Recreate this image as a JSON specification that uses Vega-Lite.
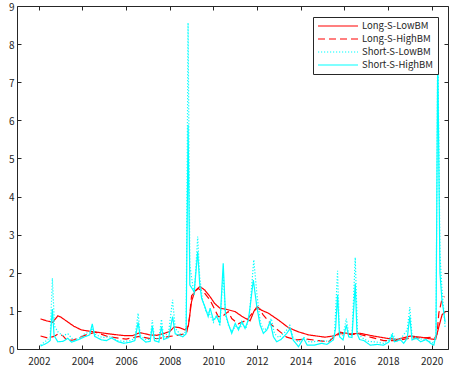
{
  "$schema": "https://vega.github.io/schema/vega-lite/v6.json",
  "width": 431,
  "height": 343,
  "autosize": {"type": "none"},
  "padding": {"left": 17, "top": 6, "right": 1, "bottom": 22},
  "background": "white",
  "config": {
    "view": {"stroke": "#262626", "strokeWidth": 1},
    "axis": {
      "domain": false,
      "grid": false,
      "ticks": true,
      "tickSize": -4,
      "tickColor": "#262626",
      "labelFont": "Noto Sans CJK JP",
      "labelFontSize": 10,
      "labelColor": "#262626",
      "title": null
    },
    "legend": {
      "orient": "none",
      "legendX": 296,
      "legendY": 11,
      "strokeColor": "#262626",
      "fillColor": "white",
      "padding": 4,
      "symbolType": "M-1,0H9",
      "symbolSize": 64,
      "symbolStrokeWidth": 1.2,
      "labelFont": "Noto Sans CJK JP",
      "labelFontSize": 9.5,
      "labelColor": "#262626",
      "labelOffset": 35,
      "rowPadding": 3,
      "title": null
    }
  },
  "data": {
    "values": [
      {"s": "Long-S-LowBM", "t": 2002.08, "v": 0.79},
      {"s": "Long-S-LowBM", "t": 2002.35, "v": 0.74},
      {"s": "Long-S-LowBM", "t": 2002.64, "v": 0.70},
      {"s": "Long-S-LowBM", "t": 2002.87, "v": 0.87},
      {"s": "Long-S-LowBM", "t": 2003.0, "v": 0.84},
      {"s": "Long-S-LowBM", "t": 2003.3, "v": 0.72},
      {"s": "Long-S-LowBM", "t": 2003.6, "v": 0.60},
      {"s": "Long-S-LowBM", "t": 2003.95, "v": 0.50},
      {"s": "Long-S-LowBM", "t": 2004.4, "v": 0.46},
      {"s": "Long-S-LowBM", "t": 2004.8, "v": 0.43},
      {"s": "Long-S-LowBM", "t": 2005.3, "v": 0.39},
      {"s": "Long-S-LowBM", "t": 2005.94, "v": 0.35},
      {"s": "Long-S-LowBM", "t": 2006.3, "v": 0.35},
      {"s": "Long-S-LowBM", "t": 2006.63, "v": 0.43},
      {"s": "Long-S-LowBM", "t": 2007.09, "v": 0.37},
      {"s": "Long-S-LowBM", "t": 2007.4, "v": 0.36},
      {"s": "Long-S-LowBM", "t": 2007.7, "v": 0.40},
      {"s": "Long-S-LowBM", "t": 2008.0, "v": 0.46},
      {"s": "Long-S-LowBM", "t": 2008.2, "v": 0.58},
      {"s": "Long-S-LowBM", "t": 2008.45, "v": 0.56},
      {"s": "Long-S-LowBM", "t": 2008.7, "v": 0.50},
      {"s": "Long-S-LowBM", "t": 2008.85, "v": 0.60},
      {"s": "Long-S-LowBM", "t": 2009.0, "v": 1.25},
      {"s": "Long-S-LowBM", "t": 2009.15, "v": 1.52},
      {"s": "Long-S-LowBM", "t": 2009.38, "v": 1.64},
      {"s": "Long-S-LowBM", "t": 2009.6, "v": 1.55},
      {"s": "Long-S-LowBM", "t": 2009.85, "v": 1.37},
      {"s": "Long-S-LowBM", "t": 2010.05, "v": 1.20},
      {"s": "Long-S-LowBM", "t": 2010.3, "v": 1.07},
      {"s": "Long-S-LowBM", "t": 2010.6, "v": 1.04},
      {"s": "Long-S-LowBM", "t": 2011.0, "v": 0.98},
      {"s": "Long-S-LowBM", "t": 2011.3, "v": 0.86},
      {"s": "Long-S-LowBM", "t": 2011.55, "v": 0.78},
      {"s": "Long-S-LowBM", "t": 2011.68, "v": 0.74},
      {"s": "Long-S-LowBM", "t": 2011.85, "v": 0.98},
      {"s": "Long-S-LowBM", "t": 2012.0, "v": 1.11},
      {"s": "Long-S-LowBM", "t": 2012.2, "v": 1.02},
      {"s": "Long-S-LowBM", "t": 2012.52, "v": 0.94},
      {"s": "Long-S-LowBM", "t": 2012.98, "v": 0.76},
      {"s": "Long-S-LowBM", "t": 2013.44, "v": 0.56},
      {"s": "Long-S-LowBM", "t": 2013.9, "v": 0.45},
      {"s": "Long-S-LowBM", "t": 2014.36, "v": 0.37},
      {"s": "Long-S-LowBM", "t": 2015.12, "v": 0.31},
      {"s": "Long-S-LowBM", "t": 2015.58, "v": 0.35},
      {"s": "Long-S-LowBM", "t": 2015.81, "v": 0.44},
      {"s": "Long-S-LowBM", "t": 2016.27, "v": 0.40},
      {"s": "Long-S-LowBM", "t": 2016.73, "v": 0.41},
      {"s": "Long-S-LowBM", "t": 2017.34, "v": 0.34},
      {"s": "Long-S-LowBM", "t": 2017.96, "v": 0.28},
      {"s": "Long-S-LowBM", "t": 2018.42, "v": 0.25},
      {"s": "Long-S-LowBM", "t": 2019.03, "v": 0.34},
      {"s": "Long-S-LowBM", "t": 2019.49, "v": 0.31},
      {"s": "Long-S-LowBM", "t": 2020.02, "v": 0.26},
      {"s": "Long-S-LowBM", "t": 2020.18, "v": 0.25},
      {"s": "Long-S-LowBM", "t": 2020.33, "v": 0.58},
      {"s": "Long-S-LowBM", "t": 2020.48, "v": 0.90},
      {"s": "Long-S-LowBM", "t": 2020.64, "v": 0.98},

      {"s": "Long-S-HighBM", "t": 2002.08, "v": 0.34},
      {"s": "Long-S-HighBM", "t": 2002.4, "v": 0.29},
      {"s": "Long-S-HighBM", "t": 2002.7, "v": 0.33},
      {"s": "Long-S-HighBM", "t": 2002.9, "v": 0.40},
      {"s": "Long-S-HighBM", "t": 2003.1, "v": 0.35},
      {"s": "Long-S-HighBM", "t": 2003.3, "v": 0.22},
      {"s": "Long-S-HighBM", "t": 2003.6, "v": 0.24},
      {"s": "Long-S-HighBM", "t": 2004.2, "v": 0.38},
      {"s": "Long-S-HighBM", "t": 2004.6, "v": 0.44},
      {"s": "Long-S-HighBM", "t": 2005.2, "v": 0.32},
      {"s": "Long-S-HighBM", "t": 2006.0, "v": 0.26},
      {"s": "Long-S-HighBM", "t": 2006.6, "v": 0.33},
      {"s": "Long-S-HighBM", "t": 2007.1, "v": 0.27},
      {"s": "Long-S-HighBM", "t": 2007.5, "v": 0.28},
      {"s": "Long-S-HighBM", "t": 2008.0, "v": 0.33},
      {"s": "Long-S-HighBM", "t": 2008.46, "v": 0.37},
      {"s": "Long-S-HighBM", "t": 2008.77, "v": 0.41},
      {"s": "Long-S-HighBM", "t": 2008.9, "v": 0.80},
      {"s": "Long-S-HighBM", "t": 2009.0, "v": 1.40},
      {"s": "Long-S-HighBM", "t": 2009.3, "v": 1.59},
      {"s": "Long-S-HighBM", "t": 2009.55, "v": 1.50},
      {"s": "Long-S-HighBM", "t": 2009.84, "v": 1.29},
      {"s": "Long-S-HighBM", "t": 2010.05, "v": 1.05},
      {"s": "Long-S-HighBM", "t": 2010.22, "v": 0.85},
      {"s": "Long-S-HighBM", "t": 2010.4, "v": 0.85},
      {"s": "Long-S-HighBM", "t": 2010.68, "v": 0.98},
      {"s": "Long-S-HighBM", "t": 2010.84, "v": 0.80},
      {"s": "Long-S-HighBM", "t": 2011.14, "v": 0.66},
      {"s": "Long-S-HighBM", "t": 2011.53, "v": 0.76},
      {"s": "Long-S-HighBM", "t": 2011.91, "v": 1.03},
      {"s": "Long-S-HighBM", "t": 2012.05, "v": 1.08},
      {"s": "Long-S-HighBM", "t": 2012.29, "v": 0.89},
      {"s": "Long-S-HighBM", "t": 2012.67, "v": 0.63},
      {"s": "Long-S-HighBM", "t": 2013.06, "v": 0.45},
      {"s": "Long-S-HighBM", "t": 2013.36, "v": 0.31},
      {"s": "Long-S-HighBM", "t": 2013.82, "v": 0.24},
      {"s": "Long-S-HighBM", "t": 2014.28, "v": 0.26},
      {"s": "Long-S-HighBM", "t": 2014.82, "v": 0.22},
      {"s": "Long-S-HighBM", "t": 2015.28, "v": 0.19},
      {"s": "Long-S-HighBM", "t": 2015.45, "v": 0.28},
      {"s": "Long-S-HighBM", "t": 2015.81, "v": 0.41},
      {"s": "Long-S-HighBM", "t": 2016.27, "v": 0.38},
      {"s": "Long-S-HighBM", "t": 2016.73, "v": 0.38},
      {"s": "Long-S-HighBM", "t": 2017.19, "v": 0.31},
      {"s": "Long-S-HighBM", "t": 2017.8, "v": 0.22},
      {"s": "Long-S-HighBM", "t": 2018.42, "v": 0.22},
      {"s": "Long-S-HighBM", "t": 2019.03, "v": 0.29},
      {"s": "Long-S-HighBM", "t": 2019.49, "v": 0.29},
      {"s": "Long-S-HighBM", "t": 2020.02, "v": 0.31},
      {"s": "Long-S-HighBM", "t": 2020.12, "v": 0.26},
      {"s": "Long-S-HighBM", "t": 2020.25, "v": 0.40},
      {"s": "Long-S-HighBM", "t": 2020.33, "v": 0.94},
      {"s": "Long-S-HighBM", "t": 2020.45, "v": 1.25},
      {"s": "Long-S-HighBM", "t": 2020.58, "v": 1.38},

      {"s": "Short-S-LowBM", "t": 2002.08, "v": 0.10},
      {"s": "Short-S-LowBM", "t": 2002.3, "v": 0.20},
      {"s": "Short-S-LowBM", "t": 2002.52, "v": 0.30},
      {"s": "Short-S-LowBM", "t": 2002.62, "v": 1.86},
      {"s": "Short-S-LowBM", "t": 2002.72, "v": 0.60},
      {"s": "Short-S-LowBM", "t": 2002.87, "v": 0.45},
      {"s": "Short-S-LowBM", "t": 2003.1, "v": 0.35},
      {"s": "Short-S-LowBM", "t": 2003.33, "v": 0.40},
      {"s": "Short-S-LowBM", "t": 2003.6, "v": 0.22},
      {"s": "Short-S-LowBM", "t": 2003.9, "v": 0.30},
      {"s": "Short-S-LowBM", "t": 2004.1, "v": 0.40},
      {"s": "Short-S-LowBM", "t": 2004.35, "v": 0.45},
      {"s": "Short-S-LowBM", "t": 2004.45, "v": 0.55},
      {"s": "Short-S-LowBM", "t": 2004.6, "v": 0.38},
      {"s": "Short-S-LowBM", "t": 2004.9, "v": 0.30},
      {"s": "Short-S-LowBM", "t": 2005.3, "v": 0.32},
      {"s": "Short-S-LowBM", "t": 2005.6, "v": 0.22},
      {"s": "Short-S-LowBM", "t": 2005.9, "v": 0.20},
      {"s": "Short-S-LowBM", "t": 2006.2, "v": 0.22},
      {"s": "Short-S-LowBM", "t": 2006.4, "v": 0.28},
      {"s": "Short-S-LowBM", "t": 2006.55, "v": 0.94},
      {"s": "Short-S-LowBM", "t": 2006.65, "v": 0.35},
      {"s": "Short-S-LowBM", "t": 2006.9, "v": 0.25},
      {"s": "Short-S-LowBM", "t": 2007.1, "v": 0.25},
      {"s": "Short-S-LowBM", "t": 2007.2, "v": 0.76},
      {"s": "Short-S-LowBM", "t": 2007.3, "v": 0.28},
      {"s": "Short-S-LowBM", "t": 2007.5, "v": 0.25},
      {"s": "Short-S-LowBM", "t": 2007.62, "v": 0.78},
      {"s": "Short-S-LowBM", "t": 2007.72, "v": 0.30},
      {"s": "Short-S-LowBM", "t": 2007.95, "v": 0.45},
      {"s": "Short-S-LowBM", "t": 2008.13, "v": 1.29},
      {"s": "Short-S-LowBM", "t": 2008.25, "v": 0.55},
      {"s": "Short-S-LowBM", "t": 2008.45, "v": 0.40},
      {"s": "Short-S-LowBM", "t": 2008.65, "v": 0.38},
      {"s": "Short-S-LowBM", "t": 2008.75, "v": 0.50},
      {"s": "Short-S-LowBM", "t": 2008.84, "v": 8.56},
      {"s": "Short-S-LowBM", "t": 2008.92, "v": 2.20},
      {"s": "Short-S-LowBM", "t": 2009.12, "v": 1.40},
      {"s": "Short-S-LowBM", "t": 2009.28, "v": 2.95},
      {"s": "Short-S-LowBM", "t": 2009.37, "v": 1.90},
      {"s": "Short-S-LowBM", "t": 2009.5, "v": 1.30},
      {"s": "Short-S-LowBM", "t": 2009.65, "v": 1.00},
      {"s": "Short-S-LowBM", "t": 2009.8, "v": 0.95},
      {"s": "Short-S-LowBM", "t": 2010.0, "v": 0.70},
      {"s": "Short-S-LowBM", "t": 2010.15, "v": 0.90},
      {"s": "Short-S-LowBM", "t": 2010.3, "v": 0.60},
      {"s": "Short-S-LowBM", "t": 2010.45, "v": 2.00},
      {"s": "Short-S-LowBM", "t": 2010.55, "v": 0.90},
      {"s": "Short-S-LowBM", "t": 2010.7, "v": 0.60},
      {"s": "Short-S-LowBM", "t": 2010.85, "v": 0.45},
      {"s": "Short-S-LowBM", "t": 2011.0, "v": 0.60},
      {"s": "Short-S-LowBM", "t": 2011.2, "v": 0.55},
      {"s": "Short-S-LowBM", "t": 2011.35, "v": 0.65},
      {"s": "Short-S-LowBM", "t": 2011.5, "v": 0.55},
      {"s": "Short-S-LowBM", "t": 2011.65, "v": 0.90},
      {"s": "Short-S-LowBM", "t": 2011.85, "v": 2.34},
      {"s": "Short-S-LowBM", "t": 2012.0, "v": 1.40},
      {"s": "Short-S-LowBM", "t": 2012.15, "v": 0.70},
      {"s": "Short-S-LowBM", "t": 2012.3, "v": 0.50},
      {"s": "Short-S-LowBM", "t": 2012.5, "v": 0.55},
      {"s": "Short-S-LowBM", "t": 2012.65, "v": 0.80},
      {"s": "Short-S-LowBM", "t": 2012.8, "v": 0.40},
      {"s": "Short-S-LowBM", "t": 2013.0, "v": 0.30},
      {"s": "Short-S-LowBM", "t": 2013.3, "v": 0.45},
      {"s": "Short-S-LowBM", "t": 2013.5, "v": 0.62},
      {"s": "Short-S-LowBM", "t": 2013.65, "v": 0.30},
      {"s": "Short-S-LowBM", "t": 2013.9, "v": 0.18},
      {"s": "Short-S-LowBM", "t": 2014.15, "v": 0.30},
      {"s": "Short-S-LowBM", "t": 2014.4, "v": 0.18},
      {"s": "Short-S-LowBM", "t": 2014.7, "v": 0.20},
      {"s": "Short-S-LowBM", "t": 2015.0, "v": 0.22},
      {"s": "Short-S-LowBM", "t": 2015.3, "v": 0.20},
      {"s": "Short-S-LowBM", "t": 2015.55, "v": 0.40},
      {"s": "Short-S-LowBM", "t": 2015.69, "v": 2.05},
      {"s": "Short-S-LowBM", "t": 2015.78, "v": 0.45},
      {"s": "Short-S-LowBM", "t": 2015.94, "v": 0.35},
      {"s": "Short-S-LowBM", "t": 2016.09, "v": 0.80},
      {"s": "Short-S-LowBM", "t": 2016.2, "v": 0.40},
      {"s": "Short-S-LowBM", "t": 2016.35, "v": 0.35},
      {"s": "Short-S-LowBM", "t": 2016.5, "v": 2.40},
      {"s": "Short-S-LowBM", "t": 2016.6, "v": 0.45},
      {"s": "Short-S-LowBM", "t": 2016.8, "v": 0.30},
      {"s": "Short-S-LowBM", "t": 2017.1, "v": 0.20},
      {"s": "Short-S-LowBM", "t": 2017.5, "v": 0.18},
      {"s": "Short-S-LowBM", "t": 2017.8, "v": 0.15},
      {"s": "Short-S-LowBM", "t": 2018.05, "v": 0.25},
      {"s": "Short-S-LowBM", "t": 2018.2, "v": 0.42},
      {"s": "Short-S-LowBM", "t": 2018.35, "v": 0.25},
      {"s": "Short-S-LowBM", "t": 2018.6, "v": 0.28},
      {"s": "Short-S-LowBM", "t": 2018.88, "v": 0.50},
      {"s": "Short-S-LowBM", "t": 2019.0, "v": 1.10},
      {"s": "Short-S-LowBM", "t": 2019.1, "v": 0.35},
      {"s": "Short-S-LowBM", "t": 2019.3, "v": 0.30},
      {"s": "Short-S-LowBM", "t": 2019.6, "v": 0.25},
      {"s": "Short-S-LowBM", "t": 2019.9, "v": 0.20},
      {"s": "Short-S-LowBM", "t": 2020.1, "v": 0.15},
      {"s": "Short-S-LowBM", "t": 2020.2, "v": 0.40},
      {"s": "Short-S-LowBM", "t": 2020.28, "v": 8.30},
      {"s": "Short-S-LowBM", "t": 2020.38, "v": 2.50},
      {"s": "Short-S-LowBM", "t": 2020.47, "v": 1.60},
      {"s": "Short-S-LowBM", "t": 2020.56, "v": 1.00},
      {"s": "Short-S-LowBM", "t": 2020.62, "v": 0.55},

      {"s": "Short-S-HighBM", "t": 2002.08, "v": 0.08},
      {"s": "Short-S-HighBM", "t": 2002.25, "v": 0.12},
      {"s": "Short-S-HighBM", "t": 2002.41, "v": 0.17},
      {"s": "Short-S-HighBM", "t": 2002.52, "v": 0.22},
      {"s": "Short-S-HighBM", "t": 2002.62, "v": 1.05},
      {"s": "Short-S-HighBM", "t": 2002.7, "v": 0.35},
      {"s": "Short-S-HighBM", "t": 2002.87, "v": 0.19},
      {"s": "Short-S-HighBM", "t": 2003.1, "v": 0.20},
      {"s": "Short-S-HighBM", "t": 2003.33, "v": 0.28},
      {"s": "Short-S-HighBM", "t": 2003.5, "v": 0.18},
      {"s": "Short-S-HighBM", "t": 2003.79, "v": 0.24},
      {"s": "Short-S-HighBM", "t": 2004.1, "v": 0.32},
      {"s": "Short-S-HighBM", "t": 2004.33, "v": 0.37},
      {"s": "Short-S-HighBM", "t": 2004.45, "v": 0.66},
      {"s": "Short-S-HighBM", "t": 2004.56, "v": 0.33},
      {"s": "Short-S-HighBM", "t": 2004.87, "v": 0.24},
      {"s": "Short-S-HighBM", "t": 2005.1, "v": 0.22},
      {"s": "Short-S-HighBM", "t": 2005.33, "v": 0.29},
      {"s": "Short-S-HighBM", "t": 2005.63, "v": 0.19},
      {"s": "Short-S-HighBM", "t": 2005.9, "v": 0.15},
      {"s": "Short-S-HighBM", "t": 2006.2, "v": 0.18},
      {"s": "Short-S-HighBM", "t": 2006.4, "v": 0.22},
      {"s": "Short-S-HighBM", "t": 2006.55, "v": 0.70},
      {"s": "Short-S-HighBM", "t": 2006.65, "v": 0.30},
      {"s": "Short-S-HighBM", "t": 2006.9, "v": 0.18},
      {"s": "Short-S-HighBM", "t": 2007.1, "v": 0.20},
      {"s": "Short-S-HighBM", "t": 2007.2, "v": 0.60},
      {"s": "Short-S-HighBM", "t": 2007.3, "v": 0.22},
      {"s": "Short-S-HighBM", "t": 2007.5, "v": 0.18},
      {"s": "Short-S-HighBM", "t": 2007.62, "v": 0.59},
      {"s": "Short-S-HighBM", "t": 2007.72, "v": 0.25},
      {"s": "Short-S-HighBM", "t": 2007.95, "v": 0.30},
      {"s": "Short-S-HighBM", "t": 2008.13, "v": 0.85},
      {"s": "Short-S-HighBM", "t": 2008.25, "v": 0.40},
      {"s": "Short-S-HighBM", "t": 2008.39, "v": 0.37},
      {"s": "Short-S-HighBM", "t": 2008.6, "v": 0.32},
      {"s": "Short-S-HighBM", "t": 2008.75, "v": 0.40},
      {"s": "Short-S-HighBM", "t": 2008.84, "v": 5.88},
      {"s": "Short-S-HighBM", "t": 2008.92, "v": 1.68},
      {"s": "Short-S-HighBM", "t": 2009.12, "v": 1.50},
      {"s": "Short-S-HighBM", "t": 2009.28, "v": 2.55},
      {"s": "Short-S-HighBM", "t": 2009.37, "v": 1.72},
      {"s": "Short-S-HighBM", "t": 2009.46, "v": 1.33},
      {"s": "Short-S-HighBM", "t": 2009.61, "v": 1.11},
      {"s": "Short-S-HighBM", "t": 2009.76, "v": 0.85},
      {"s": "Short-S-HighBM", "t": 2009.85, "v": 1.07},
      {"s": "Short-S-HighBM", "t": 2010.0, "v": 0.76},
      {"s": "Short-S-HighBM", "t": 2010.15, "v": 0.85},
      {"s": "Short-S-HighBM", "t": 2010.3, "v": 0.67},
      {"s": "Short-S-HighBM", "t": 2010.45, "v": 2.25},
      {"s": "Short-S-HighBM", "t": 2010.55, "v": 0.94},
      {"s": "Short-S-HighBM", "t": 2010.68, "v": 0.67},
      {"s": "Short-S-HighBM", "t": 2010.84, "v": 0.41},
      {"s": "Short-S-HighBM", "t": 2011.0, "v": 0.67},
      {"s": "Short-S-HighBM", "t": 2011.15, "v": 0.50},
      {"s": "Short-S-HighBM", "t": 2011.3, "v": 0.72},
      {"s": "Short-S-HighBM", "t": 2011.45, "v": 0.54},
      {"s": "Short-S-HighBM", "t": 2011.6, "v": 0.76},
      {"s": "Short-S-HighBM", "t": 2011.68, "v": 1.10},
      {"s": "Short-S-HighBM", "t": 2011.83, "v": 1.81},
      {"s": "Short-S-HighBM", "t": 2011.99, "v": 1.11},
      {"s": "Short-S-HighBM", "t": 2012.14, "v": 0.63},
      {"s": "Short-S-HighBM", "t": 2012.29, "v": 0.41},
      {"s": "Short-S-HighBM", "t": 2012.45, "v": 0.50},
      {"s": "Short-S-HighBM", "t": 2012.6, "v": 0.72},
      {"s": "Short-S-HighBM", "t": 2012.75, "v": 0.32},
      {"s": "Short-S-HighBM", "t": 2012.9, "v": 0.19},
      {"s": "Short-S-HighBM", "t": 2013.1, "v": 0.25},
      {"s": "Short-S-HighBM", "t": 2013.36, "v": 0.41},
      {"s": "Short-S-HighBM", "t": 2013.52, "v": 0.54},
      {"s": "Short-S-HighBM", "t": 2013.65, "v": 0.24},
      {"s": "Short-S-HighBM", "t": 2013.9, "v": 0.06},
      {"s": "Short-S-HighBM", "t": 2014.13, "v": 0.28},
      {"s": "Short-S-HighBM", "t": 2014.3, "v": 0.10},
      {"s": "Short-S-HighBM", "t": 2014.6, "v": 0.10},
      {"s": "Short-S-HighBM", "t": 2014.97, "v": 0.15},
      {"s": "Short-S-HighBM", "t": 2015.2, "v": 0.12},
      {"s": "Short-S-HighBM", "t": 2015.5, "v": 0.24},
      {"s": "Short-S-HighBM", "t": 2015.6, "v": 0.55},
      {"s": "Short-S-HighBM", "t": 2015.69, "v": 1.42},
      {"s": "Short-S-HighBM", "t": 2015.78, "v": 0.32},
      {"s": "Short-S-HighBM", "t": 2015.94, "v": 0.24},
      {"s": "Short-S-HighBM", "t": 2016.09, "v": 0.63},
      {"s": "Short-S-HighBM", "t": 2016.2, "v": 0.32},
      {"s": "Short-S-HighBM", "t": 2016.35, "v": 0.30},
      {"s": "Short-S-HighBM", "t": 2016.5, "v": 1.72},
      {"s": "Short-S-HighBM", "t": 2016.58, "v": 0.41},
      {"s": "Short-S-HighBM", "t": 2016.7, "v": 0.25},
      {"s": "Short-S-HighBM", "t": 2016.9, "v": 0.22},
      {"s": "Short-S-HighBM", "t": 2017.19, "v": 0.10},
      {"s": "Short-S-HighBM", "t": 2017.5, "v": 0.12},
      {"s": "Short-S-HighBM", "t": 2017.8, "v": 0.10},
      {"s": "Short-S-HighBM", "t": 2018.05, "v": 0.19},
      {"s": "Short-S-HighBM", "t": 2018.19, "v": 0.37},
      {"s": "Short-S-HighBM", "t": 2018.3, "v": 0.19},
      {"s": "Short-S-HighBM", "t": 2018.57, "v": 0.24},
      {"s": "Short-S-HighBM", "t": 2018.72, "v": 0.15},
      {"s": "Short-S-HighBM", "t": 2018.88, "v": 0.28},
      {"s": "Short-S-HighBM", "t": 2019.0, "v": 0.85},
      {"s": "Short-S-HighBM", "t": 2019.1, "v": 0.24},
      {"s": "Short-S-HighBM", "t": 2019.3, "v": 0.28},
      {"s": "Short-S-HighBM", "t": 2019.5, "v": 0.19},
      {"s": "Short-S-HighBM", "t": 2019.75, "v": 0.25},
      {"s": "Short-S-HighBM", "t": 2019.95, "v": 0.15},
      {"s": "Short-S-HighBM", "t": 2020.1, "v": 0.10},
      {"s": "Short-S-HighBM", "t": 2020.2, "v": 0.35},
      {"s": "Short-S-HighBM", "t": 2020.28, "v": 7.80},
      {"s": "Short-S-HighBM", "t": 2020.38, "v": 2.00},
      {"s": "Short-S-HighBM", "t": 2020.47, "v": 1.30},
      {"s": "Short-S-HighBM", "t": 2020.56, "v": 0.95},
      {"s": "Short-S-HighBM", "t": 2020.62, "v": 0.70}
    ]
  },
  "layer": [
    {
      "transform": [{"filter": "datum.s === 'Long-S-LowBM'"}],
      "mark": {"type": "line", "strokeWidth": 1.2},
      "encoding": {
        "x": {"field": "t", "type": "quantitative", "scale": {"domain": [2001, 2020.75], "nice": false, "zero": false},
              "axis": {"orient": "bottom", "values": [2002, 2004, 2006, 2008, 2010, 2012, 2014, 2016, 2018, 2020], "format": "d", "labelPadding": 11}},
        "y": {"field": "v", "type": "quantitative", "scale": {"domain": [0, 9], "nice": false},
              "axis": {"orient": "left", "values": [0, 1, 2, 3, 4, 5, 6, 7, 8, 9], "labelPadding": 7, "labelOffset": 1}},
        "color": {"field": "s", "type": "nominal",
                  "scale": {"domain": ["Long-S-LowBM", "Long-S-HighBM", "Short-S-LowBM", "Short-S-HighBM"], "range": ["#ff0000", "#ff0000", "#00ffff", "#00ffff"]}},
        "strokeDash": {"field": "s", "type": "nominal",
                       "scale": {"domain": ["Long-S-LowBM", "Long-S-HighBM", "Short-S-LowBM", "Short-S-HighBM"], "range": [[1, 0], [7, 4], [1.2, 1.8], [1, 0]]}}
      }
    },
    {
      "transform": [{"filter": "datum.s === 'Long-S-HighBM'"}],
      "mark": {"type": "line", "strokeWidth": 1.2},
      "encoding": {
        "x": {"field": "t", "type": "quantitative",
              "axis": {"orient": "top", "values": [2002, 2004, 2006, 2008, 2010, 2012, 2014, 2016, 2018, 2020], "labels": false}},
        "y": {"field": "v", "type": "quantitative",
              "axis": {"orient": "right", "values": [0, 1, 2, 3, 4, 5, 6, 7, 8, 9], "labels": false}},
        "color": {"field": "s", "type": "nominal"},
        "strokeDash": {"field": "s", "type": "nominal"}
      }
    },
    {
      "transform": [{"filter": "datum.s === 'Short-S-LowBM'"}],
      "mark": {"type": "line", "strokeWidth": 1.2},
      "encoding": {
        "x": {"field": "t", "type": "quantitative", "axis": null},
        "y": {"field": "v", "type": "quantitative", "axis": null},
        "color": {"field": "s", "type": "nominal"},
        "strokeDash": {"field": "s", "type": "nominal"}
      }
    },
    {
      "transform": [{"filter": "datum.s === 'Short-S-HighBM'"}],
      "mark": {"type": "line", "strokeWidth": 1.2},
      "encoding": {
        "x": {"field": "t", "type": "quantitative", "axis": null},
        "y": {"field": "v", "type": "quantitative", "axis": null},
        "color": {"field": "s", "type": "nominal"},
        "strokeDash": {"field": "s", "type": "nominal"}
      }
    }
  ],
  "resolve": {"axis": {"x": "independent", "y": "independent"}}
}
